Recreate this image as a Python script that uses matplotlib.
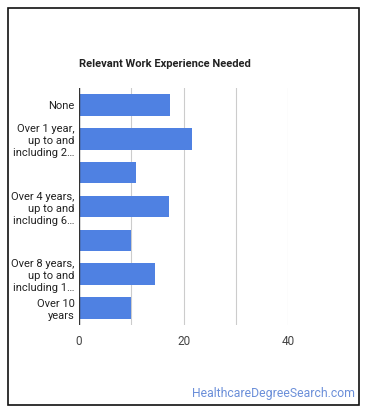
import matplotlib
matplotlib.use('Agg')
import matplotlib.pyplot as plt
from matplotlib.patches import Rectangle

plt.rcParams['font.family'] = ['Roboto', 'DejaVu Sans']

# данные
labels = ['None', 'Over 1 year,\nup to and\nincluding 2…', '', 'Over 4 years,\nup to and\nincluding 6…',
          '', 'Over 8 years,\nup to and\nincluding 1…', 'Over 10\nyears']
values = [17.4, 21.7, 10.9, 17.2, 9.9, 14.5, 9.9]
x_ticks = [0, 20, 40]
grid_x = [10, 20, 30, 40]

W, H = 370, 417
fig = plt.figure(figsize=(W / 100, H / 100), dpi=100)

# рамка
fig.patches.append(Rectangle((8 / W, 1 - 405 / H), 351 / W, 397 / H, transform=fig.transFigure,
                             fill=False, edgecolor='#111111', linewidth=1.2))

ax = fig.add_axes([79 / W, 1 - 325 / H, 209 / W, 237 / H])
y = list(range(len(values)))
ax.barh(y, values, height=0.64, color='#4f81e2', zorder=3)
ax.set_ylim(len(values) - 0.5, -0.5)
ax.set_xlim(0, 40)

for g in grid_x:
    ax.axvline(g, color='#cccccc', linewidth=0.8, zorder=1)
ax.axvline(0, color='#333333', linewidth=1.0, zorder=4)

for s in ax.spines.values():
    s.set_visible(False)
ax.set_xticks(x_ticks)
ax.set_xticklabels([str(t) for t in x_ticks], fontsize=8.5, color='#444444')
ax.tick_params(axis='x', length=0, pad=7)
ax.set_yticks(y)
ax.set_yticklabels(labels, fontsize=8, color='#222222', linespacing=1.25)
ax.tick_params(axis='y', length=0, pad=3)

fig.text(79 / W, 1 - 64 / H, 'Relevant Work Experience Needed', fontsize=8, fontweight='bold',
         color='#222222', va='center', ha='left')
fig.text(355 / W, 1 - 394 / H, 'HealthcareDegreeSearch.com', fontsize=8.8,
         color='#6b8fd9', va='center', ha='right')

fig.savefig('out.png', dpi=100)
